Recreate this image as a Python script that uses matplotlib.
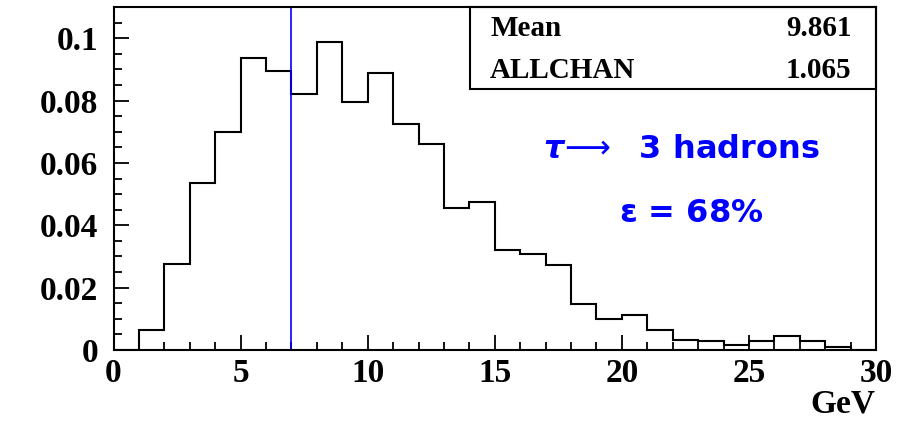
import numpy as np
import matplotlib
matplotlib.use("Agg")
import matplotlib.pyplot as plt
from matplotlib.patches import Rectangle
from matplotlib.ticker import MultipleLocator

# histogram contents, 1 GeV bins from 0 to 30
bin_edges = list(range(0, 31))
counts = [0.0, 0.0064, 0.0275, 0.0537, 0.0700, 0.0936, 0.0895, 0.0822, 0.0987, 0.0795,
          0.0889, 0.0724, 0.0660, 0.0456, 0.0475, 0.0322, 0.0309, 0.0274, 0.0147, 0.0098,
          0.0112, 0.0063, 0.0033, 0.0028, 0.0017, 0.0028, 0.0046, 0.0028, 0.0011, 0.0]
cut_value = 7
stat_names = ["Mean", "ALLCHAN"]
stat_values = ["9.861", "1.065"]

SERIF = "Liberation Serif"
BLUE = "#0000ff"

fig = plt.figure(figsize=(9.08, 4.21), dpi=100)
ax = fig.add_axes([0.125, 0.1686, 0.8398, 0.8148])

ax.stairs(counts, bin_edges, color="black", linewidth=1.5)
ax.axvline(cut_value, color=BLUE, linewidth=1.2)

ax.set_xlim(0, 30)
ax.set_ylim(0, 0.11)
ax.xaxis.set_major_locator(MultipleLocator(5))
ax.xaxis.set_minor_locator(MultipleLocator(1))
ax.yaxis.set_minor_locator(MultipleLocator(0.005))
ax.set_yticks([0, 0.02, 0.04, 0.06, 0.08, 0.1])
ax.set_yticklabels(["0", "0.02", "0.04", "0.06", "0.08", "0.1"])

ax.tick_params(which="both", direction="in", top=False, right=False, width=1.3)
ax.tick_params(which="major", length=11)
ax.tick_params(which="minor", length=6)
ax.tick_params(axis="x", pad=6)
ax.tick_params(axis="y", pad=11)
for lab in ax.get_xticklabels() + ax.get_yticklabels():
    lab.set_fontfamily(SERIF)
    lab.set_fontweight("bold")
    lab.set_fontsize(24)
for sp in ax.spines.values():
    sp.set_linewidth(1.5)

fig.text(0.964, 0.003, "GeV", ha="right", va="bottom",
         fontfamily=SERIF, fontweight="bold", fontsize=24)

# statistics box
box_x0, box_y0 = 0.4675, 0.761
ax.add_patch(Rectangle((box_x0, box_y0), 1 - box_x0, 1 - box_y0, transform=ax.transAxes,
                       fill=False, edgecolor="black", linewidth=1.5, clip_on=False))
for i, (name, val) in enumerate(zip(stat_names, stat_values)):
    yy = 0.938 - i * 0.122
    ax.text(0.494, yy, name, transform=ax.transAxes, ha="left", va="center",
            fontfamily=SERIF, fontweight="bold", fontsize=21)
    ax.text(0.968, yy, val, transform=ax.transAxes, ha="right", va="center",
            fontfamily=SERIF, fontweight="bold", fontsize=21)

ax.text(0.745, 0.585, r"$\boldsymbol{\tau}\!\longrightarrow$  3 hadrons", transform=ax.transAxes,
        ha="center", va="center", color=BLUE, fontsize=23, fontweight="bold",
        fontfamily="DejaVu Sans")
ax.text(0.757, 0.398, r"$\boldsymbol{\varepsilon}$ = 68%", transform=ax.transAxes,
        ha="center", va="center", color=BLUE, fontsize=23, fontweight="bold",
        fontfamily="DejaVu Sans")

fig.savefig("out.png", dpi=100)
